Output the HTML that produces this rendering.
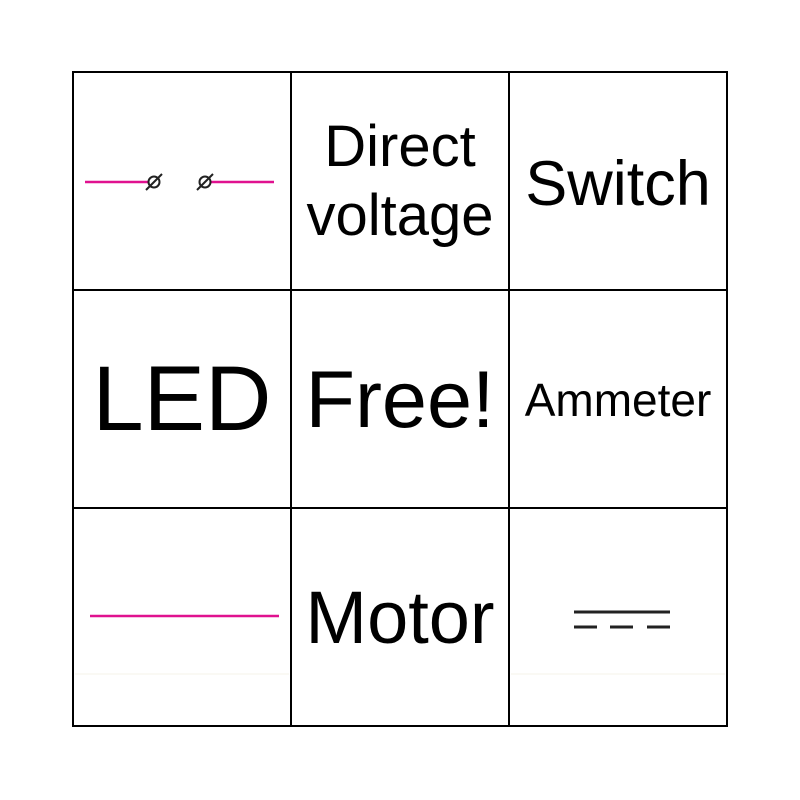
<!DOCTYPE html>
<html><head><style>
body{margin:0;background:#fff;}
svg{display:block;}
text{font-family:"Liberation Sans",Arial,sans-serif;fill:#000;text-anchor:middle;}
</style></head><body>
<svg width="800" height="800" viewBox="0 0 800 800">
<rect width="800" height="800" fill="#fff"/>
<g stroke="#000" stroke-width="2" fill="none">
<rect x="73" y="72" width="654" height="654"/>
<line x1="291" y1="72" x2="291" y2="726"/>
<line x1="509" y1="72" x2="509" y2="726"/>
<line x1="73" y1="290" x2="727" y2="290"/>
<line x1="73" y1="508" x2="727" y2="508"/>
</g>
<g stroke="#f5f3ea" stroke-width="1">
<line x1="75" y1="674" x2="289" y2="674"/>
<line x1="511" y1="674" x2="725" y2="674"/>
</g>
<g stroke="#e0118f" stroke-width="2.5">
<line x1="85" y1="182" x2="148" y2="182"/>
<line x1="210" y1="182" x2="274" y2="182"/>
</g>
<g stroke="#222" stroke-width="2" fill="none">
<circle cx="154" cy="182" r="5.5"/>
<line x1="146" y1="190" x2="162" y2="174"/>
<circle cx="205" cy="182" r="5.5"/>
<line x1="197" y1="190" x2="213" y2="174"/>
</g>
<line x1="90" y1="616" x2="279" y2="616" stroke="#e0118f" stroke-width="2.5"/>
<g stroke="#222" stroke-width="3">
<line x1="574" y1="612" x2="670" y2="612"/>
<line x1="574" y1="627" x2="597" y2="627"/>
<line x1="610" y1="627" x2="633" y2="627"/>
<line x1="647" y1="627" x2="670" y2="627"/>
</g>
<text x="400" y="166" font-size="58">Direct</text>
<text x="400" y="235" font-size="58">voltage</text>
<text x="618" y="205" font-size="63">Switch</text>
<text x="182" y="430" font-size="92">LED</text>
<text x="400" y="427" font-size="81">Free!</text>
<text x="618" y="416" font-size="46">Ammeter</text>
<text x="400" y="643" font-size="74">Motor</text>
</svg>
</body></html>
